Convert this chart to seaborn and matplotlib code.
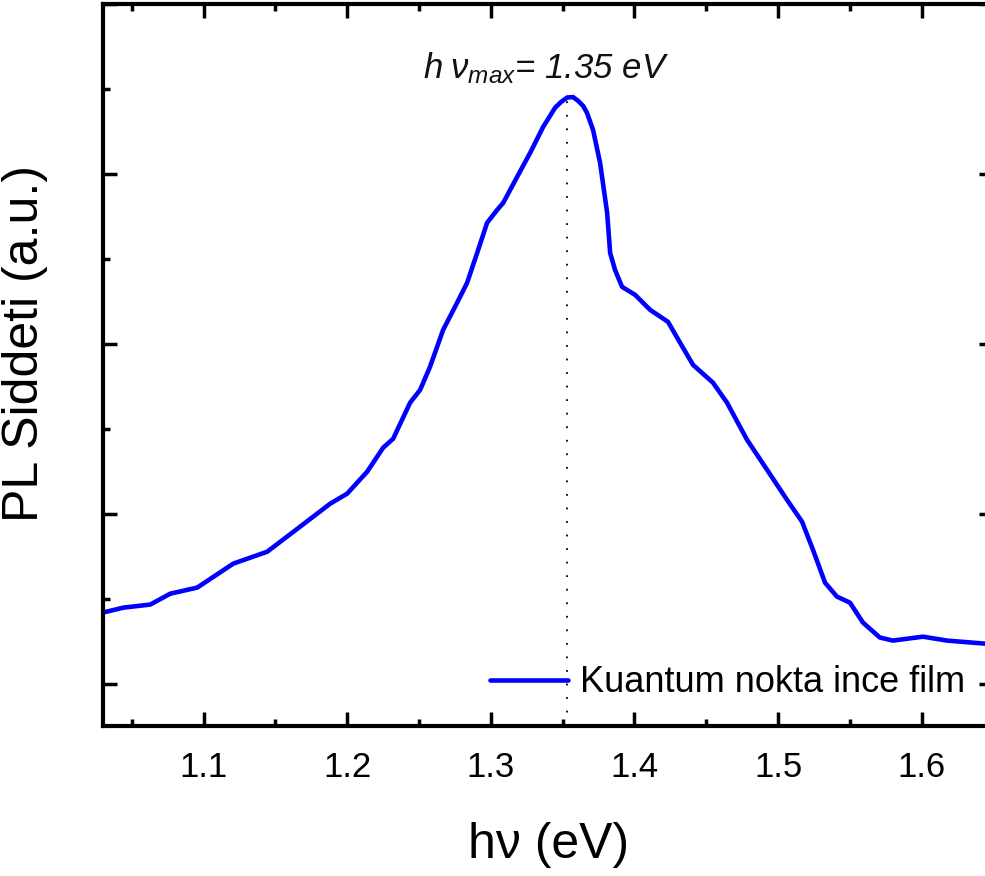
import numpy as np
import pandas as pd
import matplotlib
matplotlib.use("Agg")
import matplotlib.pyplot as plt
import seaborn as sns
from matplotlib.ticker import MultipleLocator, NullFormatter

# Data (x in eV, y in arbitrary units)
energy = [1.030, 1.0442, 1.0629, 1.0768, 1.0956, 1.1207, 1.1443, 1.1673, 1.1882, 1.2000,
          1.2139, 1.2250, 1.2320, 1.2438, 1.2508, 1.2577, 1.2668, 1.2765, 1.2835, 1.2905,
          1.2974, 1.3044, 1.3086, 1.3183, 1.3274, 1.3364, 1.3448, 1.3490, 1.3532, 1.3573,
          1.3608, 1.3643, 1.3670, 1.3712, 1.3761, 1.3810, 1.3831, 1.3865, 1.3914, 1.4005,
          1.4109, 1.4234, 1.4318, 1.4408, 1.4547, 1.4645, 1.4784, 1.4923, 1.5062, 1.5167,
          1.5243, 1.5327, 1.5410, 1.5501, 1.5591, 1.5709, 1.5800, 1.6009, 1.6176, 1.6441,
          1.650]
intensity = [0.418, 0.447, 0.465, 0.529, 0.565, 0.706, 0.776, 0.924, 1.059, 1.118,
             1.247, 1.388, 1.441, 1.653, 1.729, 1.865, 2.082, 2.241, 2.359, 2.535,
             2.712, 2.788, 2.829, 2.982, 3.124, 3.276, 3.390, 3.424, 3.450, 3.452,
             3.430, 3.400, 3.359, 3.259, 3.065, 2.771, 2.535, 2.435, 2.335, 2.288,
             2.200, 2.129, 2.006, 1.876, 1.771, 1.653, 1.435, 1.259, 1.082, 0.953,
             0.788, 0.594, 0.512, 0.476, 0.359, 0.271, 0.253, 0.276, 0.253, 0.235,
             0.230]
x_ticks = [1.1, 1.2, 1.3, 1.4, 1.5, 1.6]
x_tick_labels = ["1.1", "1.2", "1.3", "1.4", "1.5", "1.6"]
series_label = "Kuantum nokta ince film"
peak_label = r"$h\;\nu_{max}$= 1.35 eV"

df = pd.DataFrame({"hv": energy, "pl": intensity})

sns.set_style("ticks")
plt.rcParams["font.family"] = ["Liberation Sans", "DejaVu Sans"]
plt.rcParams["mathtext.fontset"] = "custom"
plt.rcParams["mathtext.it"] = "Liberation Sans:italic"
plt.rcParams["mathtext.rm"] = "Liberation Sans"
for k in ["text.color", "axes.labelcolor", "xtick.color", "ytick.color", "axes.edgecolor"]:
    plt.rcParams[k] = "black"

fig = plt.figure(figsize=(9.85, 8.76), dpi=100)
ax = fig.add_axes([0.1046, 0.1712, 0.904, 0.8242])

sns.lineplot(data=df, x="hv", y="pl", ax=ax, color="#0000FF", linewidth=3.3,
             label=series_label, sort=False)
for ln in ax.get_lines():
    ln.set_solid_joinstyle("round")
    ln.set_solid_capstyle("round")

# dotted line marking the maximum
i_max = int(np.argmax(intensity))
peak_x = 1.353
ax.plot([peak_x, peak_x], [-0.25, intensity[i_max]], color="black", linewidth=1.3,
        linestyle=(0, (1, 6.5)), zorder=1)
ax.text(1.3385, 3.56, peak_label, fontsize=25, fontstyle="italic",
        ha="center", va="baseline", color="#111111")

ax.set_xlim(1.03, 1.65)
ax.set_ylim(-0.25, 4.0)
ax.set_xticks(x_ticks)
ax.set_xticklabels(x_tick_labels)
ax.xaxis.set_minor_locator(MultipleLocator(0.05))
ax.yaxis.set_major_locator(MultipleLocator(1.0))
ax.yaxis.set_minor_locator(MultipleLocator(0.5))
ax.yaxis.set_major_formatter(NullFormatter())

ax.tick_params(axis="both", which="major", direction="in", length=10, width=2.5,
               top=True, right=True, labelsize=25, pad=18)
ax.tick_params(axis="both", which="minor", direction="in", length=5, width=2.5,
               top=True, right=True)
for s in ax.spines.values():
    s.set_linewidth(3)
    s.set_visible(True)

ax.set_xlabel("hν (eV)", fontsize=36, labelpad=27)
ax.set_ylabel("PL Siddeti (a.u.)", fontsize=36)
ax.yaxis.set_label_coords(-0.062, 0.53)

leg = ax.legend(loc="center left", bbox_to_anchor=(0.4345, 0.0596), frameon=False,
                fontsize=26, handlelength=2.16, handletextpad=0.33, borderpad=0,
                borderaxespad=0)

fig.savefig("out.png", dpi=100)
